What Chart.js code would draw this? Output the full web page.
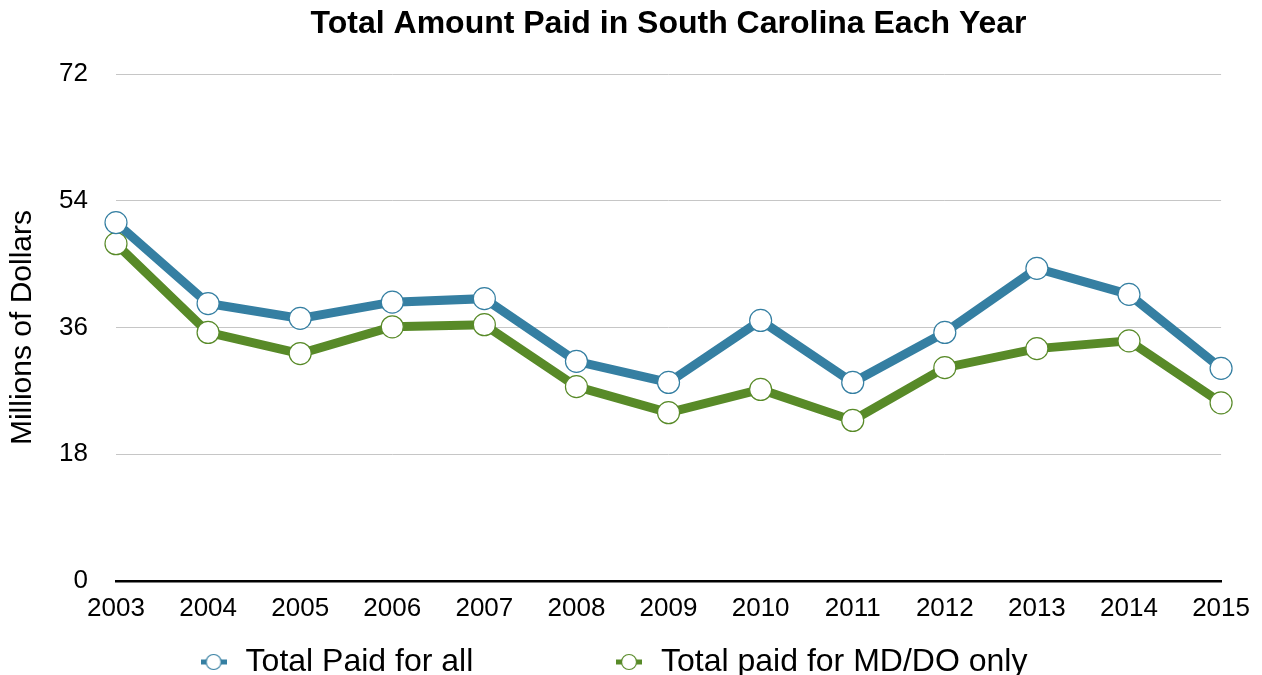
<!DOCTYPE html>
<html>
<head>
<meta charset="utf-8">
<script src="https://cdn.jsdelivr.net/npm/chart.js@4/dist/chart.umd.min.js"></script>
<style>
  html, body { margin: 0; padding: 0; background: #ffffff; }
  #wrap { width: 1262px; height: 675px; }
</style>
</head>
<body>
<div id="wrap"><canvas id="c" width="1262" height="675"></canvas></div>
<script>
const years = ['2003','2004','2005','2006','2007','2008','2009','2010','2011','2012','2013','2014','2015'];
const totalPaidAll = [50.9, 39.4, 37.3, 39.6, 40.1, 31.2, 28.2, 37.0, 28.2, 35.3, 44.4, 40.7, 30.2];
const totalPaidMdDo = [47.9, 35.3, 32.3, 36.1, 36.4, 27.6, 23.9, 27.2, 22.8, 30.3, 33.0, 34.1, 25.3];
const yTickValues = [0, 18, 36, 54, 72];
const seriesNames = ['Total Paid for all', 'Total paid for MD/DO only'];

const BLUE = '#357fa2';
const GREEN = '#588a28';
const FONT = "'Liberation Sans', Arial, Helvetica, sans-serif";

function legendMarker(color) {
  const cv = document.createElement('canvas');
  cv.width = 26; cv.height = 18;
  const g = cv.getContext('2d');
  g.strokeStyle = color;
  g.lineWidth = 5;
  g.beginPath(); g.moveTo(0, 9); g.lineTo(26, 9); g.stroke();
  g.beginPath(); g.arc(13, 9, 7.5, 0, Math.PI * 2);
  g.fillStyle = '#ffffff'; g.fill();
  g.lineWidth = 1.2; g.strokeStyle = color; g.stroke();
  return cv;
}
const markers = [legendMarker(BLUE), legendMarker(GREEN)];
// gap after the first legend entry (the legend's own padding would also add vertical space)
const legendGap = '\u00a0'.repeat(15) + '\u2009';

const ctx = document.getElementById('c').getContext('2d');
new Chart(ctx, {
  type: 'line',
  data: {
    labels: years,
    datasets: [
      {
        label: seriesNames[0],
        data: totalPaidAll,
        borderColor: BLUE,
        borderWidth: 9,
        pointRadius: 11,
        pointHoverRadius: 11,
        pointBackgroundColor: '#ffffff',
        pointBorderColor: BLUE,
        pointBorderWidth: 1.2,
        tension: 0,
        fill: false
      },
      {
        label: seriesNames[1],
        data: totalPaidMdDo,
        borderColor: GREEN,
        borderWidth: 9,
        pointRadius: 11,
        pointHoverRadius: 11,
        pointBackgroundColor: '#ffffff',
        pointBorderColor: GREEN,
        pointBorderWidth: 1.2,
        tension: 0,
        fill: false
      }
    ]
  },
  options: {
    responsive: false,
    animation: false,
    devicePixelRatio: 1,
    layout: { padding: { left: 0, right: 37, top: 0, bottom: -13 } },
    plugins: {
      tooltip: { enabled: false },
      title: {
        display: true,
        fullSize: false,
        text: 'Total Amount Paid in South Carolina Each Year',
        color: '#000000',
        font: { family: FONT, size: 32, weight: 'bold' },
        padding: { top: 5, bottom: 30.6 }
      },
      legend: {
        position: 'bottom',
        labels: {
          color: '#000000',
          font: { family: FONT, size: 32 },
          usePointStyle: true,
          pointStyleWidth: 32,
          padding: 0,
          generateLabels: function(chart) {
            const items = Chart.defaults.plugins.legend.labels.generateLabels(chart);
            items.forEach((it, i) => {
              it.pointStyle = markers[i];
              if (i === 0) it.text = it.text + legendGap;
            });
            return items;
          }
        }
      }
    },
    scales: {
      x: {
        offset: false,
        afterFit: function(scale) { scale.height = 65; },
        grid: { display: false, drawTicks: false },
        border: { display: true, color: '#000000', width: 2.5 },
        ticks: {
          color: '#000000',
          font: { family: FONT, size: 26 },
          padding: 12,
          maxRotation: 0,
          autoSkip: false
        }
      },
      y: {
        min: 0,
        max: 72,
        afterBuildTicks: function(scale) {
          scale.ticks = yTickValues.map(v => ({ value: v }));
        },
        afterFit: function(scale) { scale.width = 116; },
        grid: {
          drawTicks: false,
          color: function(c) { return c.tick && c.tick.value === 0 ? 'rgba(0,0,0,0)' : '#c6c6c6'; },
          lineWidth: 1
        },
        border: { display: false },
        ticks: {
          color: '#000000',
          font: { family: FONT, size: 26 },
          padding: 28
        },
        title: {
          display: true,
          text: 'Millions of Dollars',
          color: '#000000',
          font: { family: FONT, size: 30 },
          padding: { top: 5, bottom: 0 }
        }
      }
    }
  }
});
</script>
</body>
</html>
